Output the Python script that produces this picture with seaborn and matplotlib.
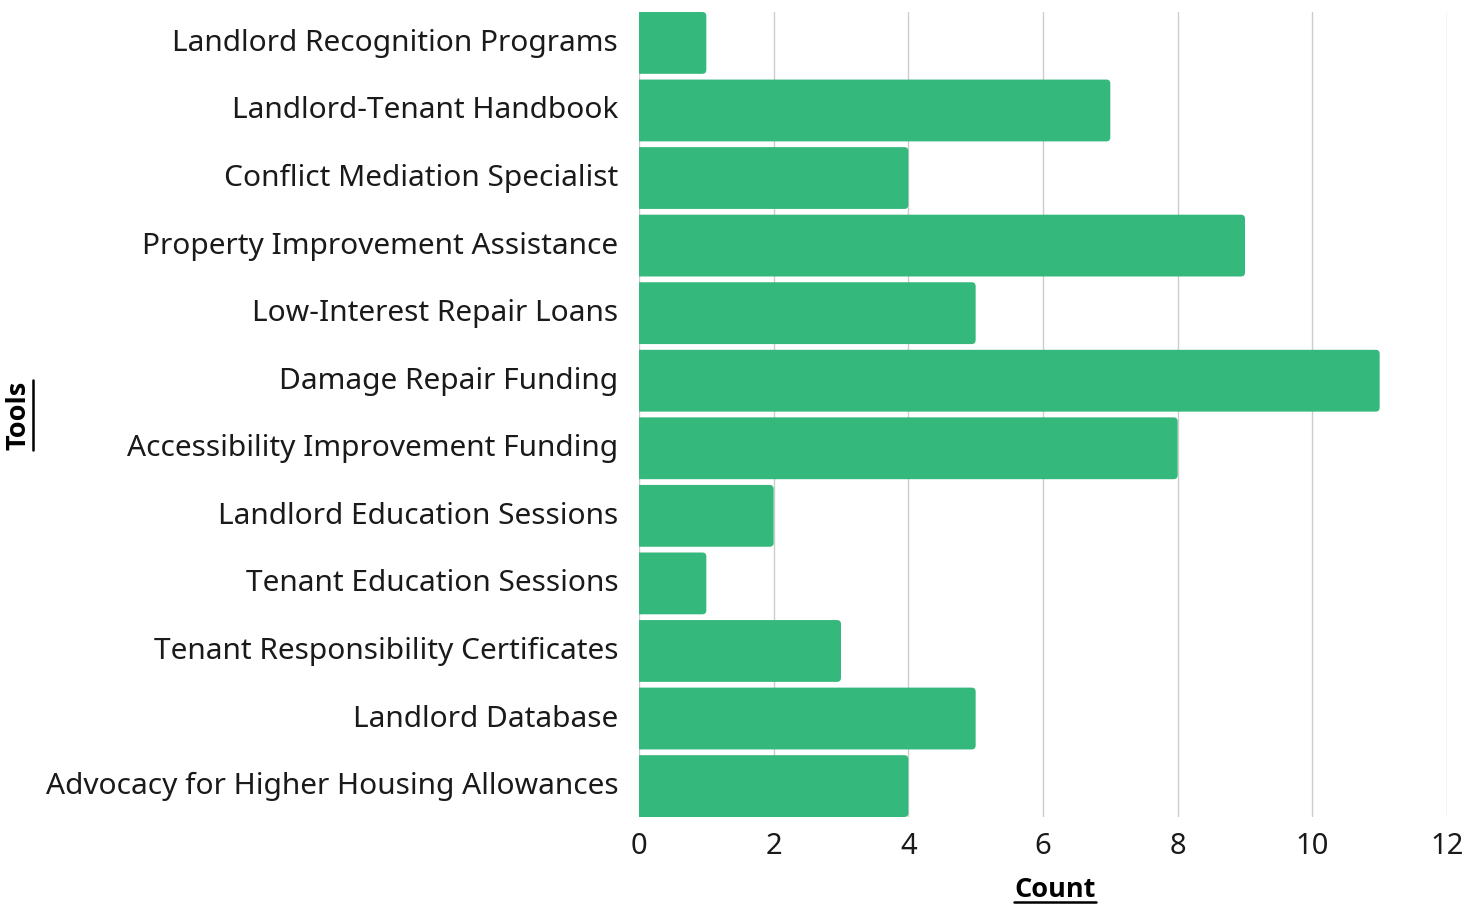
import numpy as np
import pandas as pd
import seaborn as sns
import matplotlib.pyplot as plt
import matplotlib.transforms as mtransforms
from matplotlib.patches import FancyBboxPatch
from matplotlib.lines import Line2D

tools = [
    "Landlord Recognition Programs",
    "Landlord-Tenant Handbook",
    "Conflict Mediation Specialist",
    "Property Improvement Assistance",
    "Low-Interest Repair Loans",
    "Damage Repair Funding",
    "Accessibility Improvement Funding",
    "Landlord Education Sessions",
    "Tenant Education Sessions",
    "Tenant Responsibility Certificates",
    "Landlord Database",
    "Advocacy for Higher Housing Allowances",
]
counts = [1, 7, 4, 9, 5, 11, 8, 2, 1, 3, 5, 4]
x_ticks = [0, 2, 4, 6, 8, 10, 12]

BAR_COLOR = "#35b87b"
TEXT_COLOR = "#1a1a1a"
BAR_W = 0.915


def underline(fig, txt, renderer, vertical=False):
    # draw a line under a text object (matplotlib has no underline style)
    bb = txt.get_window_extent(renderer).transformed(fig.transFigure.inverted())
    if vertical:
        x = bb.x1 + 1.0 / fig.bbox.width
        fig.add_artist(Line2D([x, x], [bb.y0, bb.y1], color="black", lw=1.8,
                              transform=fig.transFigure))
    else:
        y = bb.y0 + 1.0 / fig.bbox.height
        fig.add_artist(Line2D([bb.x0, bb.x1], [y, y], color="black", lw=1.8,
                              transform=fig.transFigure))


def main():
    sns.set_theme(style="white")
    plt.rcParams["font.family"] = ["Noto Sans", "DejaVu Sans"]

    df = pd.DataFrame({"Tools": tools, "Count": counts})

    fig = plt.figure(figsize=(14.79, 9.07), dpi=100)
    # axes spans 639..1447 px horizontally, 12..817 px vertically
    ax = fig.add_axes([639 / 1479, 1 - 817 / 907, 808 / 1479, 805 / 907])

    sns.barplot(data=df, x="Count", y="Tools", orient="h", color=BAR_COLOR,
                width=BAR_W, saturation=1, ax=ax, zorder=3)

    # swap plain rectangles for rounded ones
    for p in list(ax.patches):
        x, y = p.get_x(), p.get_y()
        w, h = p.get_width(), p.get_height()
        p.remove()
        rb = FancyBboxPatch((x - 0.2, y), w + 0.2, h,
                            boxstyle="round,pad=0,rounding_size=0.06",
                            mutation_aspect=1.0, facecolor=BAR_COLOR,
                            edgecolor="none", zorder=3)
        ax.add_patch(rb)

    half = BAR_W / 2
    ax.set_xlim(0, 12)
    ax.set_ylim(len(tools) - 1 + half, -half)
    ax.set_xticks(x_ticks)
    ax.xaxis.grid(True, color="#cccccc", lw=1.0, zorder=0)
    ax.yaxis.grid(False)
    sns.despine(ax=ax, left=True, bottom=True)
    ax.tick_params(axis="y", length=0, pad=15, labelsize=21.5, labelcolor=TEXT_COLOR)
    ax.tick_params(axis="x", length=0, pad=11, labelsize=21, labelcolor=TEXT_COLOR)
    ax.set_xlabel("")
    ax.set_ylabel("")

    # nudge category labels up a little
    shift = mtransforms.ScaledTranslation(0, 3 / 100, fig.dpi_scale_trans)
    for lbl in ax.get_yticklabels():
        lbl.set_transform(lbl.get_transform() + shift)

    bold = ["Open Sans", "DejaVu Sans"]
    xl = fig.text(1055 / 1479, 1 - 903 / 907, "Count", ha="center", va="bottom",
                  fontsize=19.5, fontweight="bold", color="black", family=bold)
    yl = fig.text(6 / 1479, 1 - 415 / 907, "Tools", ha="left", va="center",
                  rotation=90, fontsize=19.5, fontweight="bold", color="black",
                  family=bold)

    fig.canvas.draw()
    r = fig.canvas.get_renderer()
    underline(fig, xl, r)
    underline(fig, yl, r, vertical=True)

    fig.savefig("out.png", dpi=100)
    plt.close(fig)


if __name__ == "__main__":
    main()
